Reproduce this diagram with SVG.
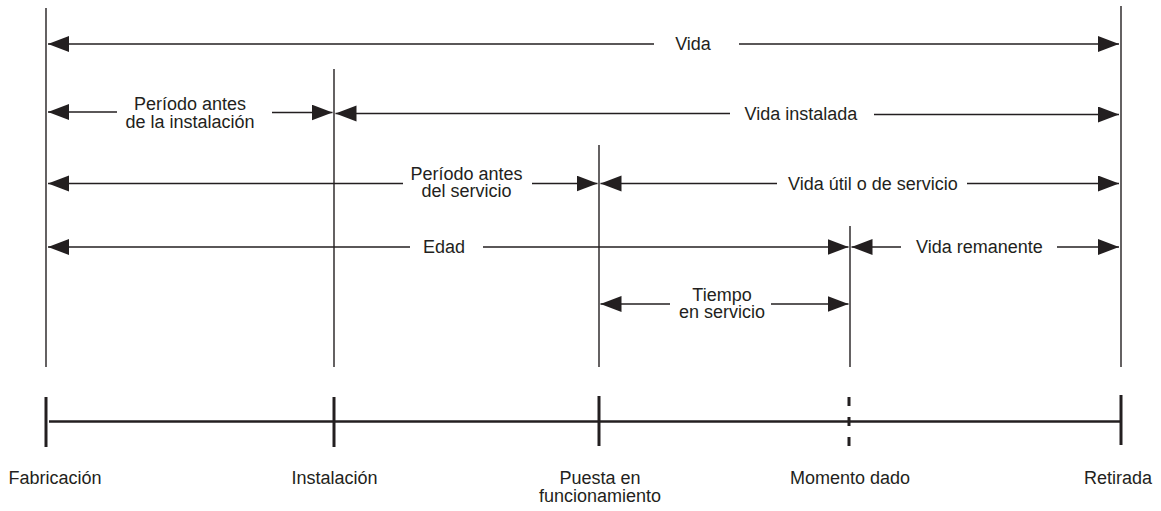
<svg xmlns="http://www.w3.org/2000/svg" width="1161" height="511" viewBox="0 0 1161 511">
<style>
  .guide { stroke: #231f20; stroke-width: 1.4; fill: none; }
  .tick { stroke: #231f20; stroke-width: 3; fill: none; }
  .axis { stroke: #231f20; stroke-width: 2.6; fill: none; }
  .dim { stroke: #231f20; stroke-width: 1.4; fill: none; }
  .dimL { marker-start: url(#ah); }
  .dimR { marker-end: url(#ah); }
  text { font-family: "Liberation Sans", Arial, Helvetica, sans-serif; font-size: 18px; fill: #231f20; text-anchor: middle; }
</style>
<defs>
  <marker id="ah" markerUnits="userSpaceOnUse" markerWidth="22" markerHeight="17" refX="21" refY="8" orient="auto-start-reverse">
    <path d="M0,0 L21,8 L0,16 Z" fill="#231f20"/>
  </marker>
</defs>
<rect width="1161" height="511" fill="#ffffff"/>

<g id="fabricacion">
  <line class="guide" x1="46" y1="8" x2="46" y2="367"/>
  <line class="tick" x1="46" y1="397" x2="46" y2="447"/>
  <text x="55" y="484">Fabricación</text>
</g>
<g id="instalacion">
  <line class="guide" x1="334" y1="69" x2="334" y2="367"/>
  <line class="tick" x1="334" y1="397" x2="334" y2="447"/>
  <text x="334.5" y="484">Instalación</text>
</g>
<g id="puesta">
  <line class="guide" x1="599" y1="145" x2="599" y2="367"/>
  <line class="tick" x1="599" y1="396" x2="599" y2="446"/>
  <text x="600" y="484">Puesta en</text>
  <text x="600" y="502">funcionamiento</text>
</g>
<g id="momento">
  <line class="guide" x1="850" y1="226" x2="850" y2="367"/>
  <line class="tick" x1="849" y1="397" x2="849" y2="447" stroke-dasharray="9 11"/>
  <text x="850" y="484">Momento dado</text>
</g>
<g id="retirada">
  <line class="guide" x1="1121" y1="6" x2="1121" y2="367"/>
  <line class="tick" x1="1121" y1="395" x2="1121" y2="445"/>
  <text x="1118" y="484">Retirada</text>
</g>

<g id="timeline">
  <line class="axis" x1="49" y1="421.5" x2="1121" y2="421.5"/>
</g>

<g id="connectors">
  <!-- Vida -->
  <line class="dim dimL" x1="48" y1="44" x2="654" y2="44"/>
  <line class="dim dimR" x1="739" y1="44" x2="1119" y2="44"/>
  <text x="693" y="50">Vida</text>

  <!-- Período antes de la instalación -->
  <line class="dim dimL" x1="48" y1="112" x2="117" y2="112"/>
  <line class="dim dimR" x1="272" y1="112.5" x2="332.5" y2="112.5"/>
  <text x="190" y="110">Período antes</text>
  <text x="190" y="127.5">de la instalación</text>

  <!-- Vida instalada -->
  <line class="dim dimL" x1="335.5" y1="113.5" x2="730" y2="113.5"/>
  <line class="dim dimR" x1="874" y1="114.5" x2="1119" y2="114.5"/>
  <text x="801" y="119.5">Vida instalada</text>

  <!-- Período antes del servicio -->
  <line class="dim dimL" x1="48" y1="183.5" x2="403" y2="183.5"/>
  <line class="dim dimR" x1="532" y1="183.5" x2="597.5" y2="183.5"/>
  <text x="466.5" y="179.5">Período antes</text>
  <text x="466.5" y="197">del servicio</text>

  <!-- Vida útil o de servicio -->
  <line class="dim dimL" x1="600.5" y1="183.5" x2="777" y2="183.5"/>
  <line class="dim dimR" x1="967" y1="183.5" x2="1119" y2="183.5"/>
  <text x="873" y="189.5">Vida útil o de servicio</text>

  <!-- Edad -->
  <line class="dim dimL" x1="48" y1="247" x2="410" y2="247"/>
  <line class="dim dimR" x1="483" y1="247" x2="848.5" y2="247"/>
  <text x="444" y="253">Edad</text>

  <!-- Vida remanente -->
  <line class="dim dimL" x1="851.5" y1="247" x2="901" y2="247"/>
  <line class="dim dimR" x1="1057" y1="247" x2="1119" y2="247"/>
  <text x="979.5" y="253">Vida remanente</text>

  <!-- Tiempo en servicio -->
  <line class="dim dimL" x1="600.5" y1="304" x2="670" y2="304"/>
  <line class="dim dimR" x1="771" y1="304" x2="848.5" y2="304"/>
  <text x="722" y="300.5">Tiempo</text>
  <text x="722" y="318">en servicio</text>
</g>
</svg>
